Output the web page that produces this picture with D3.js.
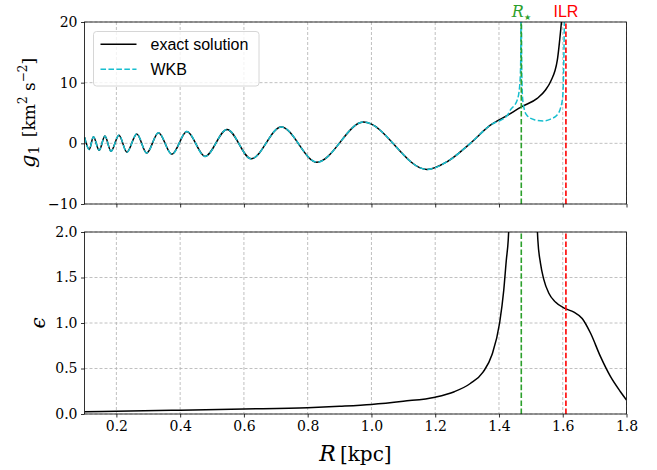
<!DOCTYPE html>
<html>
<head>
<meta charset="utf-8">
<script src="https://cdn.jsdelivr.net/npm/d3@7"></script>
<style>
    body { margin: 0; background: #fff; }
    svg { display: block; }
    .tick text { font-family: "DejaVu Serif", serif; font-size: 14px; fill: #000; }
    .tick line { stroke: #000; stroke-width: 0.8; }
</style>
</head>
<body>
<div id="graphDiv"></div>
<script>
// exact solution g1(R): extrema and points
const exactR = [0.100, 0.115, 0.128, 0.146, 0.164, 0.183, 0.208, 0.233, 0.264, 0.295, 0.332, 0.374, 0.421,
    0.478, 0.547, 0.623, 0.717, 0.829, 0.975, 1.174, 1.238, 1.310, 1.373, 1.426, 1.473, 1.520, 1.546,
    1.562, 1.583, 1.596, 1.603]
const exactG = [1.0, -1.0, 1.1, -1.15, 1.2, -1.3, 1.35, -1.45, 1.55, -1.6, 1.75, -1.8, 1.95,
    -2.15, 2.3, -2.55, 2.7, -3.1, 3.5, -4.3, -3.0, 0.0, 3.0, 4.6, 6.1, 7.4, 8.8,
    10.2, 13.7, 20, 24]

// WKB follows the exact curve up to R ~ 1.43, then splits in two branches (null = break)
const wkbTailR = [1.436, 1.457, 1.465, 1.468, 1.4695, null, 1.4698, 1.4715, 1.474, 1.480, 1.488, 1.511, 1.540, 1.562, 1.583, 1.593, 1.600, 1.603, 1.606]
const wkbTailG = [5.5, 7.1, 9.5, 13, 30, null, 30, 12, 7.5, 5.5, 4.6, 3.9, 3.7, 4.0, 4.7, 5.8, 7.7, 12.6, 24]

// epsilon(R), two pieces on each side of the spike
const epsLeftR = [0.1, 0.2, 0.4, 0.6, 0.8, 0.9, 1.0, 1.1, 1.2, 1.26, 1.31, 1.35, 1.378, 1.402, 1.415, 1.423, 1.429, 1.434]
const epsLeftE = [0.025, 0.03, 0.042, 0.055, 0.07, 0.085, 0.105, 0.14, 0.185, 0.245, 0.335, 0.46, 0.65, 1.0, 1.36, 1.69, 1.91, 2.3]
const epsRightR = [1.517, 1.522, 1.530, 1.5405, 1.556, 1.577, 1.6065, 1.635, 1.661, 1.687, 1.7185, 1.750, 1.781, 1.8]
const epsRightE = [2.3, 1.91, 1.66, 1.48, 1.33, 1.23, 1.16, 1.12, 1.05, 0.89, 0.63, 0.41, 0.245, 0.154]

const xTicks = [0.2, 0.4, 0.6, 0.8, 1.0, 1.2, 1.4, 1.6, 1.8]
const gTicks = [-10, 0, 10, 20]
const epsTicks = [0, 0.5, 1.0, 1.5, 2.0]

const rStar = 1.47
const rIlr = 1.61

const width = 657, height = 470
const panelLeft = 84.5, panelRight = 626.5
const top1 = 22, bottom1 = 204
const top2 = 232, bottom2 = 414

const cyan = "#17becf", green = "#2ca02c", red = "#ff0000"

const svg = d3.select("#graphDiv")
    .append("svg")
    .attr("width", width)
    .attr("height", height)

const xScale = d3.scaleLinear().domain([0.1, 1.8]).range([panelLeft, panelRight])
const gScale = d3.scaleLinear().domain([-10, 20]).range([bottom1, top1])
const epsScale = d3.scaleLinear().domain([0, 2]).range([bottom2, top2])

const toPairs = (xs, ys) => xs.map((x, i) => x === null ? null : [x, ys[i]])

const drawPanel = (id, yScale, yTicks, yFormat, showXLabels, top, bottom) => {
    const g = svg.append("g").attr("class", id)

    svg.append("clipPath").attr("id", "clip-" + id)
        .append("rect")
        .attr("x", panelLeft).attr("y", top)
        .attr("width", panelRight - panelLeft).attr("height", bottom - top)

    // grid
    g.selectAll(".vgrid").data(xTicks).enter().append("line")
        .attr("x1", d => xScale(d)).attr("x2", d => xScale(d))
        .attr("y1", top).attr("y2", bottom)
        .attr("stroke", "#b0b0b0").attr("stroke-width", 0.8).attr("stroke-dasharray", "3,2")
    g.selectAll(".hgrid").data(yTicks).enter().append("line")
        .attr("x1", panelLeft).attr("x2", panelRight)
        .attr("y1", d => yScale(d)).attr("y2", d => yScale(d))
        .attr("stroke", "#b0b0b0").attr("stroke-width", 0.8).attr("stroke-dasharray", "3,2")

    const bottomAxis = d3.axisBottom(xScale)
        .tickValues(xTicks)
        .tickSize(3.5)
        .tickPadding(3.5)
        .tickFormat(showXLabels ? d3.format(".1f") : () => "")
    g.append("g")
        .attr("transform", `translate(0,${bottom})`)
        .call(bottomAxis)
        .call(a => a.select(".domain").remove())

    const leftAxis = d3.axisLeft(yScale)
        .tickValues(yTicks)
        .tickSize(3.5)
        .tickPadding(3.5)
        .tickFormat(yFormat)
    g.append("g")
        .attr("transform", `translate(${panelLeft},0)`)
        .call(leftAxis)
        .call(a => a.select(".domain").remove())

    const plot = svg.append("g").attr("clip-path", `url(#clip-${id})`)
    return plot
}

const frame = (top, bottom) => {
    svg.append("rect")
        .attr("x", panelLeft).attr("y", top)
        .attr("width", panelRight - panelLeft).attr("height", bottom - top)
        .attr("fill", "none").attr("stroke", "#000").attr("stroke-width", 0.8)
}

const vLines = (plot, top, bottom) => {
    [[rStar, green], [rIlr, red]].forEach(([r, c]) => {
        plot.append("line")
            .attr("x1", xScale(r)).attr("x2", xScale(r))
            .attr("y1", bottom).attr("y2", top)
            .attr("stroke", c).attr("stroke-width", 1.6).attr("stroke-dasharray", "5.55,2.4")
    })
}

// ---------- top panel ----------
const minus = d => d < 0 ? "\u2212" + Math.abs(d) : String(d)
const plotTop = drawPanel("top", gScale, gTicks, minus, false, top1, bottom1)

const gLine = d3.line()
    .defined(d => d !== null)
    .x(d => xScale(d[0]))
    .y(d => gScale(d[1]))
    .curve(d3.curveMonotoneX)

const exactPts = toPairs(exactR, exactG)
const wkbPts = exactPts.filter(d => d[0] <= 1.43).concat(toPairs(wkbTailR, wkbTailG))

plotTop.append("path").datum(exactPts)
    .attr("d", gLine).attr("fill", "none").attr("stroke", "#000").attr("stroke-width", 1.5)
plotTop.append("path").datum(wkbPts)
    .attr("d", gLine).attr("fill", "none").attr("stroke", cyan).attr("stroke-width", 1.5)
    .attr("stroke-dasharray", "5.55,2.4")
vLines(plotTop, top1, bottom1)
frame(top1, bottom1)

// ---------- bottom panel ----------
const plotBottom = drawPanel("bottom", epsScale, epsTicks, d3.format(".1f"), true, top2, bottom2)

const eLine = d3.line()
    .x(d => xScale(d[0]))
    .y(d => epsScale(d[1]))
    .curve(d3.curveMonotoneX)

;[toPairs(epsLeftR, epsLeftE), toPairs(epsRightR, epsRightE)].forEach(pts => {
    plotBottom.append("path").datum(pts)
        .attr("d", eLine).attr("fill", "none").attr("stroke", "#000").attr("stroke-width", 1.5)
})
vLines(plotBottom, top2, bottom2)
frame(top2, bottom2)

// ---------- legend ----------
const legend = svg.append("g").attr("transform", "translate(93.5,31.5)")
legend.append("rect")
    .attr("width", 165.5).attr("height", 54.5).attr("rx", 3)
    .attr("fill", "#fff").attr("fill-opacity", 0.8)
    .attr("stroke", "#cccccc").attr("stroke-width", 0.8)
const legendItems = [["exact solution", "#000", null], ["WKB", cyan, "5.55,2.4"]]
legendItems.forEach(([label, color, dash], i) => {
    const y = 12.8 + i * 25
    legend.append("line")
        .attr("x1", 7).attr("x2", 43).attr("y1", y).attr("y2", y)
        .attr("stroke", color).attr("stroke-width", 1.5)
        .attr("stroke-dasharray", dash)
    legend.append("text")
        .attr("x", 57).attr("y", y + 5.5)
        .attr("font-family", "Liberation Sans, sans-serif").attr("font-size", 16)
        .text(label)
})

// ---------- labels ----------
svg.append("text")
    .attr("x", xScale(rStar)).attr("y", 17)
    .attr("text-anchor", "middle")
    .attr("fill", green)
    .attr("font-family", "DejaVu Serif, serif")
    .call(t => {
        t.append("tspan").attr("font-size", 16).attr("font-style", "italic").text("R")
        t.append("tspan").attr("font-size", 8).attr("dy", 3).text("\u2605")
    })

svg.append("text")
    .attr("x", xScale(rIlr)).attr("y", 17)
    .attr("text-anchor", "middle")
    .attr("fill", red)
    .attr("font-family", "Liberation Sans, sans-serif").attr("font-size", 16)
    .text("ILR")

svg.append("text")
    .attr("transform", `translate(35,${(top1 + bottom1) / 2}) rotate(-90)`)
    .attr("text-anchor", "middle")
    .attr("font-family", "DejaVu Serif, serif")
    .call(t => {
        t.append("tspan").attr("font-size", 21).attr("font-style", "italic").text("g")
        t.append("tspan").attr("font-size", 14).attr("dy", 4).text("1")
        t.append("tspan").attr("font-size", 17).attr("dy", -4).text("\u2002[km")
        t.append("tspan").attr("font-size", 12).attr("dy", -8).text("2")
        t.append("tspan").attr("font-size", 17).attr("dy", 8).text(" s")
        t.append("tspan").attr("font-size", 12).attr("dy", -8).text("\u22122")
        t.append("tspan").attr("font-size", 17).attr("dy", 8).text("]")
    })

svg.append("text")
    .attr("transform", `translate(45,${(top2 + bottom2) / 2}) rotate(-90)`)
    .attr("text-anchor", "middle")
    .attr("font-family", "DejaVu Serif, serif")
    .attr("font-size", 20).attr("font-style", "italic")
    .text("\u03f5")

svg.append("text")
    .attr("x", (panelLeft + panelRight) / 2).attr("y", 461)
    .attr("text-anchor", "middle")
    .attr("font-family", "DejaVu Serif, serif")
    .call(t => {
        t.append("tspan").attr("font-size", 22).attr("font-style", "italic").text("R")
        t.append("tspan").attr("font-size", 20).text("\u2009[kpc]")
    })
</script>
</body>
</html>
